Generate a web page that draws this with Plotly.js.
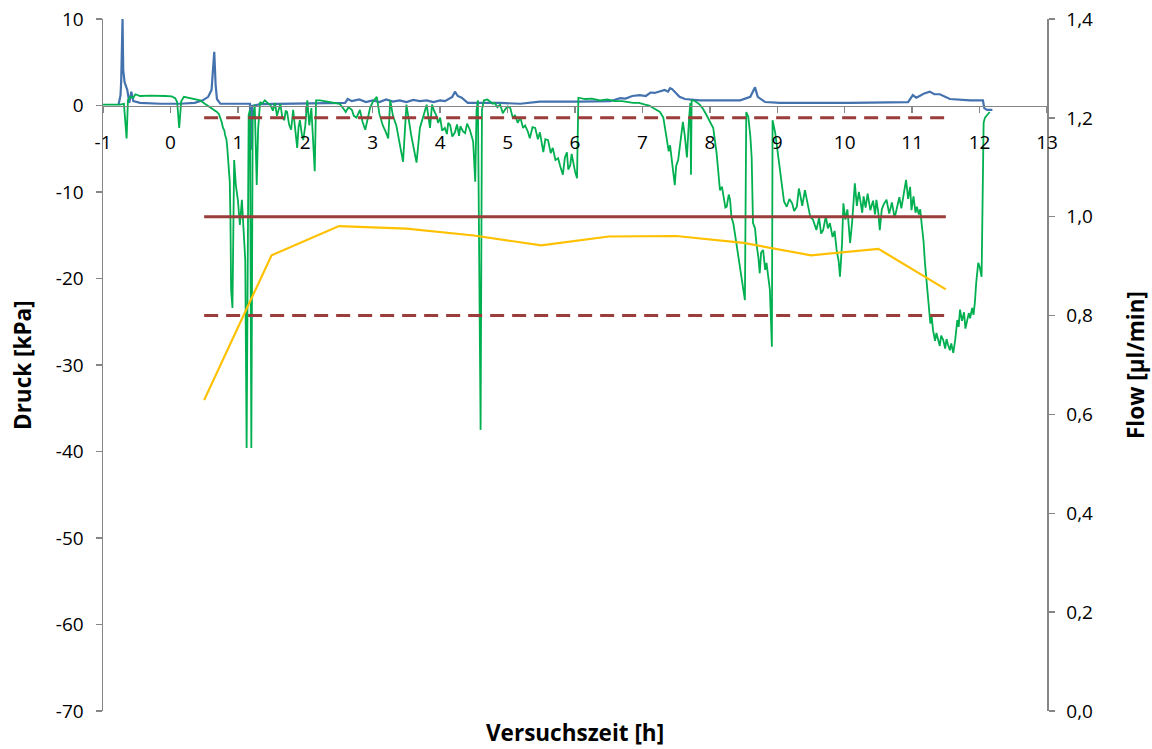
<!DOCTYPE html>
<html>
<head>
<meta charset="utf-8">
<script src="https://cdn.plot.ly/plotly-3.0.1.min.js"></script>
<style>html,body{margin:0;padding:0;background:#fff;}#chart{width:1152px;height:749px;}</style>
</head>
<body>
<div id="chart"></div>
<script>
// Pressure sensor 1 (blue), time [h] and pressure [kPa]
const blueT = [-0.77,-0.74,-0.73,-0.71,-0.70,-0.68,-0.64,-0.61,-0.58,-0.55,-0.45,-0.15,0.14,0.36,0.48,0.56,0.61,0.64,0.65,0.67,0.69,0.74,0.96,1.18,1.195,1.21,1.33,1.92,2.59,2.63,2.69,2.80,2.90,3.00,3.10,3.20,3.30,3.40,3.50,3.60,3.70,3.80,3.90,4.00,4.07,4.18,4.22,4.26,4.32,4.41,4.89,5.19,5.48,6.07,6.52,6.67,6.75,6.85,6.96,7.05,7.12,7.18,7.25,7.33,7.38,7.41,7.44,7.48,7.55,7.63,7.85,8.45,8.60,8.67,8.71,8.82,9.04,10.08,10.94,11.01,11.06,11.11,11.18,11.26,11.33,11.41,11.48,11.56,11.86,12.05,12.07,12.11,12.19];
const blueP = [0.05,1.2,2.9,10.0,4.1,2.7,1.8,0.3,1.6,0.5,0.3,0.2,0.2,0.3,0.6,1.0,1.8,5.3,6.2,2.4,0.75,0.2,0.2,0.2,-5.1,-0.05,0.15,0.2,0.3,0.75,0.5,0.7,0.4,0.6,0.4,0.7,0.45,0.6,0.4,0.65,0.5,0.6,0.4,0.6,0.5,1.0,1.6,1.1,0.9,0.3,0.3,0.2,0.45,0.45,0.5,0.85,0.8,1.1,1.2,1.1,1.5,1.45,1.6,1.8,1.6,2.0,1.9,1.55,1.0,0.75,0.6,0.6,1.0,2.1,1.0,0.4,0.3,0.3,0.4,1.2,0.9,1.1,1.4,1.6,1.3,1.3,1.0,0.75,0.6,0.6,-0.3,-0.5,-0.5];

// Pressure sensor 2 (green)
const greenT = [-1.0,-0.75,-0.69,-0.65,-0.63,-0.60,-0.55,-0.52,-0.45,-0.30,-0.08,0.02,0.07,0.10,0.13,0.16,0.20,0.25,0.44,0.51,0.59,0.64,0.69,0.72,0.74,0.76,0.78,0.80,0.81,0.83,0.84,0.86,0.88,0.89,0.90,0.92,0.94,0.945,0.97,1.00,1.03,1.06,1.11,1.13,1.16,1.18,1.20,1.22,1.25,1.28,1.30,1.33,1.36,1.40,1.44,1.48,1.52,1.55,1.58,1.60,1.63,1.66,1.69,1.71,1.73,1.76,1.79,1.82,1.85,1.88,1.90,1.92,1.95,1.97,2.00,2.03,2.06,2.09,2.14,2.16,2.22,2.29,2.36,2.44,2.51,2.56,2.60,2.64,2.69,2.72,2.76,2.81,2.85,2.89,2.96,3.00,3.06,3.10,3.15,3.19,3.23,3.26,3.30,3.35,3.40,3.45,3.50,3.54,3.57,3.61,3.65,3.70,3.75,3.80,3.85,3.88,3.91,3.94,3.97,4.00,4.03,4.07,4.10,4.12,4.15,4.18,4.22,4.25,4.28,4.30,4.34,4.37,4.40,4.44,4.47,4.49,4.52,4.54,4.56,4.60,4.62,4.65,4.70,4.74,4.78,4.81,4.85,4.89,4.93,4.96,5.00,5.04,5.08,5.11,5.15,5.19,5.23,5.26,5.30,5.33,5.37,5.41,5.45,5.48,5.51,5.53,5.56,5.60,5.64,5.67,5.71,5.75,5.78,5.82,5.85,5.88,5.90,5.93,5.95,5.97,6.00,6.03,6.05,6.15,6.25,6.37,6.48,6.59,6.70,6.86,6.95,7.04,7.10,7.16,7.21,7.26,7.31,7.33,7.36,7.39,7.41,7.44,7.46,7.48,7.50,7.53,7.56,7.60,7.63,7.66,7.69,7.71,7.72,7.73,7.75,7.80,7.85,7.90,7.95,8.00,8.05,8.10,8.13,8.15,8.18,8.20,8.23,8.25,8.28,8.30,8.32,8.35,8.37,8.40,8.42,8.45,8.47,8.50,8.52,8.54,8.57,8.60,8.62,8.64,8.67,8.69,8.72,8.74,8.76,8.79,8.82,8.84,8.87,8.89,8.92,8.93,8.97,9.00,9.02,9.05,9.07,9.10,9.14,9.18,9.22,9.25,9.29,9.32,9.34,9.37,9.41,9.45,9.49,9.53,9.58,9.62,9.65,9.68,9.72,9.75,9.78,9.82,9.85,9.88,9.91,9.93,9.96,9.98,10.01,10.04,10.08,10.11,10.13,10.15,10.18,10.21,10.23,10.26,10.28,10.31,10.34,10.38,10.42,10.45,10.47,10.50,10.52,10.55,10.58,10.62,10.66,10.70,10.74,10.77,10.81,10.84,10.88,10.91,10.94,10.97,10.99,11.02,11.05,11.07,11.10,11.12,11.14,11.17,11.19,11.22,11.24,11.27,11.29,11.31,11.34,11.36,11.38,11.41,11.43,11.46,11.49,11.51,11.53,11.56,11.58,11.61,11.64,11.67,11.69,11.71,11.74,11.77,11.79,11.81,11.84,11.86,11.89,11.91,11.93,11.95,11.98,12.00,12.03,12.06,12.08,12.15];
const greenP = [0.1,0.1,0.2,-3.8,0.6,1.0,0.9,1.3,1.1,1.15,1.1,1.05,0.85,0.4,-2.6,0.5,1.0,0.9,0.6,0.2,-0.2,-0.4,-0.75,-1.0,-1.4,-1.9,-2.6,-2.9,-3.4,-3.9,-4.6,-7.2,-8.8,-13.2,-21.3,-23.4,-10.9,-6.3,-9.2,-10.9,-13.8,-10.9,-17.9,-39.6,-1.1,-0.5,-39.6,-1.7,0.1,-9.2,-2.8,0.4,0.2,0.6,0.3,0.1,-0.6,0.3,-1.2,-0.5,0.2,-1.4,-1.7,-0.6,-0.75,-2.2,-2.8,-0.5,-3.0,-4.9,-2.5,-1.7,-3.4,-4.0,-2.3,0.6,-2.3,-0.3,-7.6,0.6,0.6,0.5,0.4,0.3,0.2,-0.3,-0.75,-0.2,-0.5,-1.2,-1.4,-0.5,-1.9,-2.8,-0.3,0.4,1.0,-1.0,-2.3,-3.0,-3.8,0.6,-1.2,-2.3,-4.2,-6.5,0.1,-2.0,-3.4,-5.0,-6.6,-2.6,-1.2,0.1,-2.6,0.1,-0.6,-1.1,-2.0,-1.4,-2.9,-2.6,-3.3,-2.0,-2.3,-3.6,-3.1,-2.2,-3.5,-2.4,-3.0,-3.2,-2.1,-2.8,-3.6,-4.2,-8.8,-0.5,0.6,-37.5,-0.5,0.6,0.7,0.5,0.2,0.3,-0.2,0.1,-0.9,-0.5,-0.1,-0.3,-1.5,-1.1,-2.0,-1.4,-2.6,-2.3,-3.0,-3.8,-2.5,-2.6,-3.9,-3.1,-4.4,-5.4,-3.9,-4.0,-5.5,-4.9,-6.3,-6.1,-7.0,-8.0,-6.0,-5.4,-7.4,-6.9,-5.6,-6.5,-7.6,-8.4,0.9,0.75,0.8,0.6,0.7,0.5,0.5,0.3,0.3,0.1,0.0,-0.3,-0.5,-0.75,-1.4,-2.4,-3.8,-5.3,-4.6,-6.3,-7.9,-9.2,-7.0,-6.3,-4.6,-1.9,-3.6,-6.0,-1.7,0.3,-8.0,0.6,0.6,0.4,0.1,-0.4,-1.1,-1.9,-2.6,-5.5,-7.9,-9.8,-9.4,-10.6,-11.8,-11.7,-10.3,-10.9,-12.9,-13.7,-14.7,-16.2,-17.5,-18.7,-19.8,-21.0,-22.5,-0.75,-1.3,-3.5,-6.0,-13.6,-14.2,-15.9,-17.6,-19.4,-17.0,-16.7,-19.0,-18.2,-20.3,-21.3,-27.9,-1.7,-3.2,-5.1,-6.6,-8.6,-9.8,-11.1,-11.7,-10.8,-11.3,-12.2,-11.7,-9.6,-10.3,-11.6,-9.8,-11.5,-12.9,-13.2,-14.4,-13.0,-14.8,-14.4,-12.8,-14.2,-13.6,-15.2,-14.5,-16.7,-18.0,-19.8,-16.0,-11.3,-13.2,-12.0,-15.9,-13.5,-11.0,-9.0,-11.6,-10.0,-10.9,-12.4,-10.5,-11.8,-10.2,-12.1,-11.0,-12.6,-10.9,-12.5,-14.4,-12.0,-11.4,-10.9,-12.5,-11.2,-13.0,-12.1,-10.6,-11.9,-10.0,-8.6,-10.8,-9.4,-12.1,-10.5,-12.4,-11.7,-12.6,-12.0,-13.6,-15.8,-18.2,-21.0,-23.3,-25.2,-24.4,-26.0,-27.2,-26.3,-26.9,-27.8,-26.6,-27.1,-28.1,-27.0,-27.6,-28.3,-27.5,-28.6,-27.0,-24.8,-25.6,-23.6,-24.9,-23.9,-25.8,-25.1,-24.0,-24.6,-23.4,-24.2,-22.8,-20.5,-18.2,-18.6,-19.8,-2.0,-1.4,-0.75];

// Flow [µl/min] (yellow), right axis
const flowT = [0.5,1.5,2.5,3.5,4.5,5.5,6.5,7.5,8.5,9.5,10.5,11.5];
const flowV = [0.629,0.922,0.981,0.976,0.962,0.942,0.960,0.961,0.947,0.922,0.935,0.853];

// Flow target and tolerance limits
const limitT = [0.5,11.5];
const flowTarget = [1.0,1.0];
const flowUpper = [1.2,1.2];
const flowLower = [0.8,0.8];

// Axis ticks
const xTicks = [-1,0,1,2,3,4,5,6,7,8,9,10,11,12,13];
const yTicks = [10,0,-10,-20,-30,-40,-50,-60,-70];
const y2Ticks = [0,0.2,0.4,0.6,0.8,1.0,1.2,1.4];

const red = '#9B3D3A';
const axisCol = '#868686';
const fontFam = '"Open Sans", "Noto Sans", sans-serif';

const traces = [
  {x: blueT, y: blueP, type: 'scatter', mode: 'lines', line: {color: '#4472AE', width: 2.2}, yaxis: 'y', xaxis: 'x', hoverinfo: 'skip'},
  {x: greenT, y: greenP, type: 'scatter', mode: 'lines', line: {color: '#00B050', width: 1.8}, yaxis: 'y', xaxis: 'x', hoverinfo: 'skip'},
  {x: limitT, y: flowUpper, type: 'scatter', mode: 'lines', line: {color: red, width: 3, dash: '14px,8px'}, yaxis: 'y2', xaxis: 'x'},
  {x: limitT, y: flowLower, type: 'scatter', mode: 'lines', line: {color: red, width: 3, dash: '14px,8px'}, yaxis: 'y2', xaxis: 'x'},
  {x: limitT, y: flowTarget, type: 'scatter', mode: 'lines', line: {color: red, width: 3}, yaxis: 'y2', xaxis: 'x'},
  {x: flowT, y: flowV, type: 'scatter', mode: 'lines', line: {color: '#FFC000', width: 2.2}, yaxis: 'y2', xaxis: 'x'}
];

const layout = {
  width: 1152, height: 749,
  margin: {l: 103, r: 105, t: 19, b: 38, pad: 0},
  paper_bgcolor: '#ffffff', plot_bgcolor: '#ffffff',
  showlegend: false,
  separators: ', ',
  font: {family: fontFam, size: 19, color: '#000'},
  xaxis: {
    range: [-1, 13], tickvals: xTicks, ticktext: xTicks.map(String),
    anchor: 'free', position: 0.875,
    showline: true, linecolor: axisCol, linewidth: 1.5,
    ticks: 'outside', ticklen: 6, tickcolor: axisCol, tickwidth: 1.5,
    ticklabelstandoff: 13,
    showgrid: false, zeroline: false,
    tickfont: {family: fontFam, size: 19, color: '#000'}
  },
  yaxis: {
    range: [-70, 10], tickvals: yTicks, ticktext: yTicks.map(String),
    showline: true, linecolor: axisCol, linewidth: 1.5,
    ticks: 'outside', ticklen: 6, tickcolor: axisCol, tickwidth: 1.5,
    ticklabelstandoff: 8,
    showgrid: false, zeroline: false,
    tickfont: {family: fontFam, size: 19, color: '#000'}
  },
  yaxis2: {
    range: [0, 1.4], tickvals: y2Ticks, tickformat: '.1f',
    overlaying: 'y', side: 'right', anchor: 'x',
    showline: true, linecolor: axisCol, linewidth: 1.5,
    ticks: 'outside', ticklen: 6, tickcolor: axisCol, tickwidth: 1.5,
    ticklabelstandoff: 8,
    showgrid: false, zeroline: false,
    tickfont: {family: fontFam, size: 19, color: '#000'}
  },
  annotations: [
    {text: '<b>Versuchszeit [h]</b>', xref: 'paper', yref: 'paper', x: 0.5, y: 0, yshift: -21, xanchor: 'center', yanchor: 'middle', showarrow: false, font: {family: fontFam, size: 22.5, color: '#000'}},
    {text: '<b>Druck [kPa]</b>', xref: 'paper', yref: 'paper', x: 0, xshift: -81, y: 0.5, textangle: -90, xanchor: 'center', yanchor: 'middle', showarrow: false, font: {family: fontFam, size: 22.5, color: '#000'}},
    {text: '<b>Flow [µl/min]</b>', xref: 'paper', yref: 'paper', x: 1, xshift: 88, y: 0.5, textangle: -90, xanchor: 'center', yanchor: 'middle', showarrow: false, font: {family: fontFam, size: 22.5, color: '#000'}}
  ]
};

Plotly.newPlot('chart', traces, layout, {displayModeBar: false, staticPlot: true});
</script>
</body>
</html>
